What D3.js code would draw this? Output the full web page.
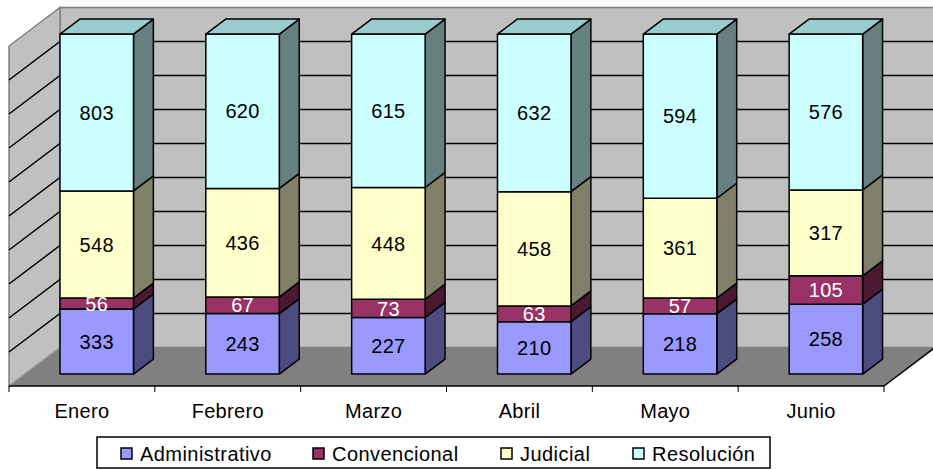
<!DOCTYPE html>
<html><head><meta charset="utf-8">
<script src="https://cdn.jsdelivr.net/npm/d3@7"></script>
<style>body{margin:0;background:#fff}svg{display:block}</style>
</head><body>
<svg id="c" width="933" height="470"></svg>
<script>
const months = ["Enero","Febrero","Marzo","Abril","Mayo","Junio"];
const seriesNames = ["Administrativo","Convencional","Judicial","Resolución"];
const administrativo = [333,243,227,210,218,258];
const convencional = [56,67,73,63,57,105];
const judicial = [548,436,448,458,361,317];
const resolucion = [803,620,615,632,594,576];
const gridTicks = [0,10,20,30,40,50,60,70,80,90,100];

const frontColors = ["#9999FF","#993366","#FFFFCC","#CCFFFF"];
const sideColors = ["#4C4C80","#4C1933","#80806A","#668080"];
const topColors = ["#7A7ACC","#7A2952","#CCCCA3","#99CCCC"];
const textColors = ["#000","#fff","#000","#000"];

const svg = d3.select("#c");
const F = "'Liberation Sans', Arial, sans-serif";
const DX = 51, DY = 38.5;
const P = (x, y, d) => [x + DX*d, y - DY*d];
const x = d3.scaleBand().domain(months).range([9, 884]).padding(0);
const y = d3.scaleLinear().domain([0,100]).range([386, 46]);

const poly = pts => pts.map(p=>p.join(",")).join(" ");
const yTop = y(100), yBot = y(0);
svg.append("polygon").attr("points", poly([P(9,yBot,1),P(9,yTop,1),P(940,yTop,1),P(940,yBot,1)]))
  .attr("fill","#C0C0C0").attr("stroke","#808080").attr("stroke-width",1.5);
svg.append("polygon").attr("points", poly([P(9,yBot,0),P(9,yTop,0),P(9,yTop,1),P(9,yBot,1)]))
  .attr("fill","#C0C0C0").attr("stroke","#808080").attr("stroke-width",1.5);
svg.append("polygon").attr("points", poly([P(9,yBot,0),P(884,yBot,0),P(884,yBot,1),P(9,yBot,1)]))
  .attr("fill","#808080").attr("stroke","none");
svg.append("line").attr("x1",9).attr("y1",yBot).attr("x2",P(9,yBot,1)[0]).attr("y2",P(9,yBot,1)[1]).attr("stroke","#A0A0A0");

gridTicks.filter(t=>t>0 && t<100).forEach(t=>{
  const a = P(9,y(t),0), b = P(9,y(t),1), c = P(940,y(t),1);
  svg.append("polyline").attr("points", poly([a,b,c])).attr("fill","none").attr("stroke","#000").attr("stroke-width",1.5);
});

const ax = svg.append("g");
ax.append("line").attr("x1",9).attr("x2",884).attr("y1",yBot).attr("y2",yBot).attr("stroke","#000").attr("stroke-width",1.5);
const fr = P(884,yBot,1);
ax.append("line").attr("x1",884).attr("y1",yBot).attr("x2",fr[0]).attr("y2",fr[1]).attr("stroke","#000").attr("stroke-width",1.5);
months.concat([null]).forEach((m,i)=>{
  const xx = m ? x(m) : 884;
  ax.append("line").attr("x1",xx).attr("x2",xx).attr("y1",yBot).attr("y2",yBot+6).attr("stroke","#000").attr("stroke-width",1);
});
months.forEach(m=>{
  ax.append("text").attr("x", x(m)+x.bandwidth()/2).attr("y", 418).attr("text-anchor","middle")
    .attr("font-family",F).attr("font-size",20).attr("letter-spacing",0.3).attr("fill","#000").text(m);
});

const series = [administrativo, convencional, judicial, resolucion];
const d0 = 0.31, d1 = 0.70, bw = 73.5;
months.forEach((m,i)=>{
  const total = d3.sum(series, s=>s[i]);
  let cum = 0;
  const xl = x(m) + (x.bandwidth()-bw)/2 - 1, xr = xl + bw;
  series.forEach((s,k)=>{
    const v0 = cum/total*100, v1 = (cum+s[i])/total*100;
    cum += s[i];
    const yb = y(v0), yt = y(v1);
    const fb = P(xl,yb,d0), ft = P(xl,yt,d0), frb = P(xr,yb,d0), frt = P(xr,yt,d0);
    const brb = P(xr,yb,d1), brt = P(xr,yt,d1), blt = P(xl,yt,d1);
    svg.append("polygon").attr("points", poly([frb,frt,brt,brb])).attr("fill",sideColors[k]).attr("stroke","#000").attr("stroke-width",1.5).attr("stroke-linejoin","round");
    svg.append("polygon").attr("points", poly([fb,ft,frt,frb])).attr("fill",frontColors[k]).attr("stroke","#000").attr("stroke-width",1.5).attr("stroke-linejoin","round");
    if (k === series.length-1) {
      svg.append("polygon").attr("points", poly([ft,frt,brt,blt])).attr("fill",topColors[k]).attr("stroke","#000").attr("stroke-width",1.5).attr("stroke-linejoin","round");
    }
  });
  cum = 0;
  series.forEach((s,k)=>{
    const v0 = cum/total*100, v1 = (cum+s[i])/total*100;
    cum += s[i];
    const c = P((xl+xr)/2, (y(v0)+y(v1))/2, d0);
    svg.append("text").attr("x",c[0]).attr("y",c[1]).attr("dy","0.36em").attr("text-anchor","middle")
      .attr("font-family",F).attr("font-size",20).attr("letter-spacing",0.3).attr("fill",textColors[k]).text(s[i]);
  });
});

const lg = svg.append("g");
lg.append("rect").attr("x",97).attr("y",437).attr("width",673).attr("height",31).attr("fill","#fff").attr("stroke","#000").attr("stroke-width",1.5);
const lx = [121, 313, 501, 633];
seriesNames.forEach((n,k)=>{
  lg.append("rect").attr("x",lx[k]).attr("y",448).attr("width",11).attr("height",11).attr("fill",frontColors[k]).attr("stroke","#000").attr("stroke-width",1.5);
  lg.append("text").attr("x",lx[k]+19).attr("y",461).attr("font-family",F).attr("font-size",20).attr("letter-spacing",0.45).attr("fill","#000").text(n);
});
</script>
</body></html>
